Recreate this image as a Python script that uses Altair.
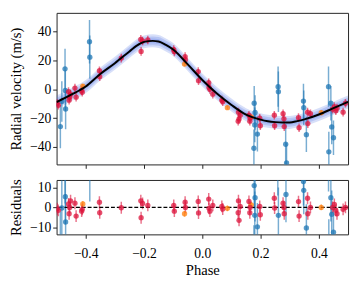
import altair as alt
import pandas as pd

FONT = "Liberation Serif"

# ---- model curve ----
model_phase = [-0.5, -0.45, -0.4, -0.35, -0.3, -0.25, -0.225, -0.2, -0.17, -0.15, -0.125, -0.1,
               -0.05, 0.0, 0.05, 0.1, 0.15, 0.2, 0.225, 0.25, 0.275, 0.3, 0.325, 0.35, 0.4, 0.45, 0.5]
model_rv = [-8.8, -3.7, 2.0, 10.7, 18.1, 26.3, 30.3, 32.9, 33.6, 33.2, 30.8, 27.6,
            17.3, 6.5, -2.9, -10.8, -17.5, -21.0, -22.1, -22.7, -23.0, -22.9, -22.0, -20.8, -17.4, -13.0, -8.7]
band_half = [4.5, 3.0, 1.6]

# ---- red instrument ----
red_phase = [-0.498, -0.494, -0.459, -0.457, -0.455, -0.452, -0.437, -0.433, -0.414, -0.412,
             -0.353, -0.352, -0.278, -0.211, -0.210, -0.205, -0.187, -0.098, -0.096, -0.059,
             -0.058, -0.014, -0.013, 0.022, 0.023, 0.026, 0.036, 0.067, 0.070, 0.124,
             0.123, 0.126, 0.130, 0.160, 0.163, 0.164, 0.197, 0.199, 0.247, 0.248,
             0.277, 0.280, 0.281, 0.330, 0.332, 0.361, 0.362, 0.371, 0.447, 0.453,
             0.458, 0.462, 0.483, 0.491]
red_rv = [-9.6, -11.0, -1.6, -7.5, -5.4, -3.3, 0.9, -5.4, -0.8, -2.0,
          12.9, 8.8, 21.7, 34.6, 26.3, 33.5, 34.2, 27.5, 26.0, 22.7,
          20.5, 12.3, 6.0, 4.6, 1.3, 0.0, -3.3, -7.5, -8.5, -15.8,
          -22.0, -20.5, -17.9, -17.9, -22.0, -20.0, -20.0, -25.2, -17.9, -25.2,
          -16.9, -20.4, -25.8, -19.6, -26.6, -15.8, -23.7, -16.9, -13.7, -12.0,
          -14.8, -13.0, -15.8, -9.6]
red_res = [-0.7, -1.5, 1.7, -3.2, 0.0, 3.3, 2.1, -4.4, -1.9, -1.0,
           2.6, -2.7, -0.2, 3.3, -5.2, 2.0, 1.0, 1.0, -1.9, 2.6,
           0.0, 3.0, -2.8, 4.2, -0.5, -1.9, 1.0, 0.5, -0.8, 3.3,
           -2.7, -6.5, 0.5, 3.0, -2.7, 0.0, 0.5, -3.7, 4.6, -0.3,
           2.1, 0.0, -3.2, 2.9, -4.4, 4.6, -3.2, 0.0, 0.0, 1.5,
           -1.5, -3.2, -1.0, 0.0]
red_err = 3.0

# ---- orange instrument ----
orange_phase = [-0.410, -0.061, 0.086, 0.168, 0.408]
orange_rv = [2.3, 17.5, -12.7, -19.0, -16.2]
orange_res = [1.7, -3.2, -0.5, 1.3, 0.0]
orange_err = 1.5

# ---- blue instrument (top panel) ----
blue_phase = [-0.487, -0.482, -0.471, -0.470, -0.469, -0.387, -0.386, 0.177, 0.178, 0.180,
              0.181, 0.189, 0.260, 0.261, 0.286, 0.289, 0.347, 0.348, 0.357, 0.433,
              0.434, 0.441, 0.444, 0.450]
blue_rv = [-25.8, -8.4, 14.2, -0.8, -13.6, 33.0, 22.3, -40.8, -9.6, -24.6,
           -16.0, -31.0, 1.9, -1.6, -38.0, -51.0, -8.1, -12.7, -31.4, 1.9,
           -43.3, -9.6, -26.0, -33.5]
blue_err = [15, 14, 14, 14, 14, 15, 15, 13, 12, 12,
            12, 12, 14, 14, 14, 14, 12, 12, 12, 14,
            14, 12, 12, 12]

# ---- blue instrument (residual panel) ----
blue_res_phase = [-0.487, -0.482, -0.471, -0.470, -0.469, -0.387, -0.386, 0.177, 0.178, 0.180,
                  0.181, 0.189, 0.259, 0.261, 0.287, 0.289, 0.347, 0.348, 0.357, 0.433,
                  0.434, 0.441, 0.444, 0.450]
blue_res = [-17.0, -0.3, 16.0, 5.4, -7.3, 30.0, 18.0, -22.0, 11.0, -4.0,
            4.9, -9.8, 20.0, -4.0, 6.5, -28.0, 13.0, 8.6, -10.4, 22.0,
            -20.0, 4.9, -3.5, -12.5]

zero_level = [0.0]

# ---- build tables ----
top_rows, res_rows = [], []
for p, v, e in zip(blue_phase, blue_rv, blue_err):
    top_rows.append(dict(inst="blue", phase=p, val=v, err=e))
for p, v, e in zip(blue_res_phase, blue_res, blue_err):
    res_rows.append(dict(inst="blue", phase=p, val=v, err=e))
for p, v, r in zip(orange_phase, orange_rv, orange_res):
    top_rows.append(dict(inst="orange", phase=p, val=v, err=orange_err))
    res_rows.append(dict(inst="orange", phase=p, val=r, err=orange_err))
for p, v, r in zip(red_phase, red_rv, red_res):
    top_rows.append(dict(inst="red", phase=p, val=v, err=red_err))
    res_rows.append(dict(inst="red", phase=p, val=r, err=red_err))
top_df = pd.DataFrame(top_rows)
res_df = pd.DataFrame(res_rows)
model_df = pd.DataFrame({"phase": model_phase, "rv": model_rv})
zero_df = pd.DataFrame({"z": zero_level})

W = 300
H_TOP = 156
H_RES = 56
ticks_x = [-0.4, -0.2, 0.0, 0.2, 0.4]

xscale = alt.Scale(domain=[-0.5, 0.5], nice=False, zero=False)
color = alt.Color("inst:N", legend=None,
                  scale=alt.Scale(domain=["blue", "orange", "red"],
                                  range=["#1f77b4", "#ff7f0e", "#dc143c"]))

x_top = alt.X("phase:Q", scale=xscale,
              axis=alt.Axis(values=ticks_x, labels=False, title=None, tickSize=4))
x_bot = alt.X("phase:Q", scale=xscale,
              axis=alt.Axis(values=ticks_x, format=".1f", title="Phase", tickSize=4,
                            labelPadding=9, titlePadding=2, labelOverlap=False))

yscale_top = alt.Scale(domain=[-52, 53], nice=False, zero=False)
yscale_res = alt.Scale(domain=[-13.6, 13.8], nice=False, zero=False)
yaxis_top = alt.Axis(values=[-40, -20, 0, 20, 40], format="d", title="Radial velocity (m/s)",
                     tickSize=4, labelPadding=2, titlePadding=6, labelOverlap=False)
yaxis_res = alt.Axis(values=[-10, 0, 10], format="d", title="Residuals",
                     tickSize=4, labelPadding=2, titlePadding=6, labelOverlap=False)

# ---- top panel ----
base_model = alt.Chart(model_df)
bands = []
for hw in band_half:
    bands.append(
        base_model.transform_calculate(lo=f"datum.rv - {hw}", hi=f"datum.rv + {hw}")
        .mark_area(color="#4169e1", opacity=0.21, interpolate="monotone", clip=True)
        .encode(x=x_top, y=alt.Y("lo:Q", scale=yscale_top, axis=yaxis_top), y2="hi:Q")
    )

top_base = alt.Chart(top_df).transform_calculate(lo="datum.val - datum.err",
                                                  hi="datum.val + datum.err")
top_bars = top_base.mark_rule(strokeWidth=1.5, opacity=0.6, clip=True).encode(
    x=x_top, y=alt.Y("lo:Q", scale=yscale_top, axis=yaxis_top), y2="hi:Q", color=color)
top_pts = top_base.mark_circle(size=30, opacity=0.75, clip=True).encode(
    x=x_top, y=alt.Y("val:Q", scale=yscale_top, axis=yaxis_top), color=color)
model_line = base_model.mark_line(color="black", strokeWidth=2, interpolate="monotone",
                                  clip=True).encode(
    x=x_top, y=alt.Y("rv:Q", scale=yscale_top, axis=yaxis_top))

top = alt.layer(*bands, top_bars, top_pts, model_line).properties(width=W, height=H_TOP)

# ---- residual panel ----
res_base = alt.Chart(res_df).transform_calculate(lo="datum.val - datum.err",
                                                  hi="datum.val + datum.err")
res_bars = res_base.mark_rule(strokeWidth=1.5, opacity=0.6, clip=True).encode(
    x=x_bot, y=alt.Y("lo:Q", scale=yscale_res, axis=yaxis_res), y2="hi:Q", color=color)
res_pts = res_base.mark_circle(size=30, opacity=0.75, clip=True).encode(
    x=x_bot, y=alt.Y("val:Q", scale=yscale_res, axis=yaxis_res), color=color)
zero_line = alt.Chart(zero_df).mark_rule(color="black", strokeDash=[4, 2],
                                         strokeWidth=1.2).encode(
    y=alt.Y("z:Q", scale=yscale_res, axis=yaxis_res))

bottom = alt.layer(res_bars, zero_line, res_pts).properties(width=W, height=H_RES)

chart = (
    alt.vconcat(top, bottom, spacing=16, bounds="flush")
    .properties(padding={"left": 0, "top": 0, "right": 0, "bottom": 0})
    .configure_view(stroke="#222222", strokeWidth=1)
    .configure_axis(labelFont=FONT, titleFont=FONT, labelFontSize=14, titleFontSize=15,
                    titleFontWeight="normal", labelColor="black", titleColor="black",
                    tickColor="#222222", tickWidth=1, grid=False, domain=False)
)

chart.save("out.html", embed_options={"renderer": "svg", "actions": False})
